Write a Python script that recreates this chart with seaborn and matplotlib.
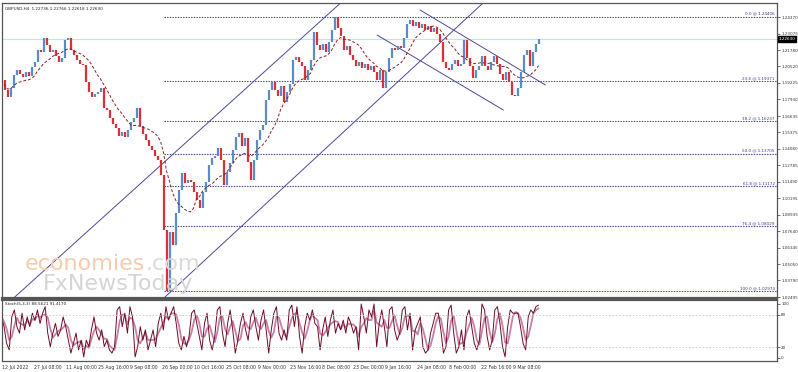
import numpy as np
import pandas as pd
import matplotlib
matplotlib.use("Agg")
import matplotlib.pyplot as plt
import matplotlib.transforms as mtransforms
import seaborn as sns

sns.set_style("white")
plt.rcParams['font.family'] = ['DejaVu Sans']

# ---------------- data ----------------
symbol_title = "GBPUSD,H4  1.22736 1.22766 1.22618 1.22630"
stoch_title = "Stoch(5,3,3) 88.5621 91.4170"
last_price = 1.22630

close = [
    1.1945, 1.1867, 1.1812, 1.1882, 1.1984, 1.2023, 1.1992, 1.1968, 1.2007, 1.1976,
    1.2046, 1.2085, 1.2179, 1.2163, 1.2273, 1.2218, 1.2163, 1.2179, 1.2132, 1.2085,
    1.2117, 1.2257, 1.2273, 1.2179, 1.2140, 1.2101, 1.2070, 1.2062, 1.1929, 1.1851,
    1.1812, 1.1835, 1.1851, 1.1882, 1.1726, 1.1710, 1.1648, 1.1601, 1.1569, 1.1507,
    1.1538, 1.1499, 1.1554, 1.1617, 1.1648, 1.1726, 1.1585, 1.1522, 1.1476, 1.1429,
    1.1397, 1.1351, 1.1320, 1.1203, 1.0773, 1.0297, 1.0757, 1.0656, 1.0905, 1.1085,
    1.1218, 1.1140, 1.1164, 1.1148, 1.1070, 1.1007, 1.0945, 1.1070, 1.1148, 1.1281,
    1.1335, 1.1351, 1.1413, 1.1320, 1.1125, 1.1226, 1.1296, 1.1397, 1.1499, 1.1530,
    1.1429, 1.1491, 1.1304, 1.1164, 1.1320, 1.1476, 1.1554, 1.1593, 1.1789, 1.1867,
    1.1929, 1.1867, 1.1820, 1.1898, 1.1773, 1.1851, 1.1914, 1.2101, 1.2124, 1.2085,
    1.2054, 1.1945, 1.2023, 1.2101, 1.2320, 1.2218, 1.2179, 1.2226, 1.2163, 1.2242,
    1.2335, 1.2440, 1.2351, 1.2288, 1.2179, 1.2210, 1.2140, 1.2101, 1.2054, 1.2085,
    1.2039, 1.2070, 1.2023, 1.2054, 1.2007, 1.1945, 1.2023, 1.1882, 1.2007, 1.2117,
    1.2195, 1.2179, 1.2210, 1.2195, 1.2273, 1.2382, 1.2414, 1.2367, 1.2398, 1.2351,
    1.2382, 1.2335, 1.2367, 1.2320, 1.2351, 1.2304, 1.2242, 1.2085, 1.2039, 1.2023,
    1.2070, 1.2101, 1.2054, 1.2070, 1.2257, 1.2117, 1.2054, 1.1960, 1.2023, 1.2054,
    1.2132, 1.2054, 1.2023, 1.2085, 1.2132, 1.2070, 1.1992, 1.1945, 1.2007, 1.1929,
    1.1828, 1.1820, 1.1882, 1.2007, 1.2140, 1.2179, 1.2054, 1.2163, 1.2226, 1.2263,
]

stoch_main = [
    76, 58, 27, 15, 76, 89, 58, 46, 83, 52, 76, 58, 83, 70, 89, 64, 83, 95, 46, 21,
    46, 64, 40, 52, 76, 58, 33, 9, 27, 46, 15, 33, 2, 33, 21, 52, 76, 46, 33, 52,
    21, 33, 15, 9, 21, 89, 95, 58, 83, 46, 95, 76, 2, 21, 58, 33, 52, 15, 33, 52,
    21, 64, 83, 52, 95, 70, 83, 95, 64, 27, 15, 40, 21, 40, 83, 89, 64, 40, 15, 64,
    83, 33, 15, 40, 89, 95, 46, 21, 64, 89, 52, 9, 33, 64, 83, 52, 33, 76, 89, 58,
    33, 70, 89, 52, 9, 52, 83, 95, 46, 33, 52, 33, 89, 98, 58, 95, 40, 9, 58, 83,
    70, 89, 64, 58, 15, 52, 76, 40, 70, 89, 46, 64, 52, 70, 46, 76, 64, 46, 58, 15,
    100, 76, 46, 89, 76, 100,
    21, 64, 89, 58, 21, 89, 95, 52, 33, 46, 89, 95, 52, 83, 15, 52, 64, 76, 21, 9,
    15, 46, 64, 83, 83, 52, 9, 21, 89, 98, 46, 9, 21, 52, 15, 76, 89, 58, 27, 15,
    33, 100, 89, 40, 15, 33, 89, 95, 64, 21, 2, 58, 89, 83, 83, 83, 58, 27, 15, 76,
    89, 83, 95, 98,
]

price_ticks = [1.24370, 1.23075, 1.21780, 1.20520, 1.19225, 1.17930, 1.16635, 1.15375,
               1.14080, 1.12785, 1.11490, 1.10195, 1.08935, 1.07640, 1.06345, 1.05050,
               1.03790, 1.02495]
stoch_ticks = [0, 20, 80, 100]
date_labels = ["12 Jul 2022", "27 Jul 08:00", "11 Aug 00:00", "25 Aug 16:00", "9 Sep 08:00",
               "26 Sep 00:00", "10 Oct 16:00", "25 Oct 08:00", "9 Nov 00:00", "23 Nov 16:00",
               "8 Dec 08:00", "23 Dec 00:00", "9 Jan 16:00", "24 Jan 08:00", "8 Feb 00:00",
               "22 Feb 16:00", "9 Mar 08:00"]

fib_levels = [0.0, 23.6, 38.2, 50.0, 61.8, 76.4, 100.0]
fib_prices = [1.24406, 1.19371, 1.16237, 1.13705, 1.11172, 1.08029, 1.02974]

# trend lines: (bar0, price0, bar1, price1)
trend_up_upper = (3.7, 1.0234, 113.0, 1.2546)
trend_up_lower = (54.5, 1.02495, 160.5, 1.2546)
trend_dn_upper = (139.5, 1.2492, 181.3, 1.1906)
trend_dn_lower = (125.2, 1.2296, 167.3, 1.1710)

# ---------------- figure ----------------
W, H = 798, 372
fig = plt.figure(figsize=(W / 100, H / 100), dpi=100)
fig.patch.set_facecolor("white")


def box(l, t, r, b):
    return [l / W, 1 - b / H, (r - l) / W, (b - t) / H]


ax = fig.add_axes(box(2, 3, 777, 298))
ax2 = fig.add_axes(box(2, 300, 777, 361))

xmin = (2 - 1.5) / 3
xmax = (777 - 1.5) / 3

bull = "#5A8CC8"
bear = "#DA3038"
navy = "#3C3C8E"

c = np.array(close)
o = np.r_[c[0], c[:-1]]
idx = np.arange(len(c))
up = c >= o
ax.vlines(idx[up], o[up], c[up], color=bull, lw=1.6, zorder=3)
ax.vlines(idx[~up], o[~up], c[~up], color=bear, lw=1.6, zorder=3)

df = pd.DataFrame({"bar": idx, "ma": pd.Series(c).rolling(10, min_periods=1).mean()})
sns.lineplot(data=df, x="bar", y="ma", ax=ax, color="#8E1F1F", lw=0.7,
             linestyle=(0, (3, 2)), zorder=4, legend=False)

# current price line
ax.axhline(last_price, color="#BFE6EC", lw=0.8, zorder=1)

# fibonacci levels
fib_start = int(np.argmin(c)) - 1
bt = mtransforms.blended_transform_factory(ax.transAxes, ax.transData)
for lvl, p in zip(fib_levels, fib_prices):
    ax.hlines(p, fib_start, xmax, color=navy, lw=0.8, linestyles=(0, (1.2, 1.2)), zorder=2)
    ax.text(0.997, p + 0.0006, f"{lvl:.1f} @ {p:.5f}", transform=bt, ha="right",
            va="bottom", fontsize=3, color=navy)

# trend lines
for (b0, p0, b1, p1) in [trend_up_upper, trend_up_lower, trend_dn_upper, trend_dn_lower]:
    ax.plot([b0, b1], [p0, p1], color="#4A4A9A", lw=0.7, zorder=2)

ax.set_xlim(xmin, xmax)
ax.set_ylim(1.02417, 1.25464)
ax.yaxis.tick_right()
ax.set_yticks(price_ticks)
ax.set_yticklabels([f"{t:.5f}" for t in price_ticks])
ax.tick_params(axis="y", labelsize=3, length=2, width=0.5, pad=1, colors="#333333")
ax.set_xticks([])
ax.set_xlabel("")
ax.set_ylabel("")
for s in ax.spines.values():
    s.set_color("#555555")
    s.set_linewidth(0.9)
ax.spines["bottom"].set_linewidth(1.6)

ax.text(0.004, 0.985, symbol_title, transform=ax.transAxes, fontsize=3, va="top",
        ha="left", color="#222222")
ax.text(1.002, last_price, f"{last_price:.5f}", transform=bt, fontsize=3, color="white",
        va="center", ha="left", bbox=dict(facecolor="black", edgecolor="black", pad=0.6),
        zorder=6, clip_on=False)

# watermark
fig.text(25 / W, 1 - 270 / H, "economies", fontsize=16, color="#F7CBAE", va="baseline")
fig.text(146 / W, 1 - 270 / H, ".com", fontsize=16, color="#DADADA", va="baseline")
fig.text(43 / W, 1 - 290 / H, "FxNewsToday", fontsize=16, color="#D5D5D5", va="baseline")

# stochastic
k = np.array(stoch_main, dtype=float)
sx = np.linspace(0, len(c) - 1, len(k))
sdf = pd.DataFrame({"bar": sx, "k": k, "d": pd.Series(k).rolling(3, min_periods=1).mean()})
sns.lineplot(data=sdf, x="bar", y="d", ax=ax2, color="#C87FA8", lw=1.3, legend=False)
sns.lineplot(data=sdf, x="bar", y="k", ax=ax2, color="#6E0C24", lw=0.7, legend=False)
for lv in (20, 80):
    ax2.axhline(lv, color="#C8C8C8", lw=0.6, linestyle=(0, (2, 2)))
ax2.set_xlim(xmin, xmax)
ax2.set_ylim(-5.6, 107.4)
ax2.yaxis.tick_right()
ax2.set_yticks(stoch_ticks)
ax2.set_yticklabels([str(t) for t in stoch_ticks])
ax2.tick_params(axis="y", labelsize=3, length=2, width=0.5, pad=1, colors="#333333")
ax2.set_xticks(np.linspace(xmin, xmin + 16 * 10.65, 17))
ax2.set_xticklabels(date_labels, ha="left")
ax2.tick_params(axis="x", labelsize=3.3, length=2, width=0.5, pad=1, colors="#333333")
ax2.set_xlabel("")
ax2.set_ylabel("")
for s in ax2.spines.values():
    s.set_color("#555555")
    s.set_linewidth(0.9)
ax2.spines["top"].set_linewidth(1.6)
ax2.text(0.004, 0.96, stoch_title, transform=ax2.transAxes, fontsize=3, va="top",
         ha="left", color="#222222")

fig.savefig("out.png", dpi=100)
